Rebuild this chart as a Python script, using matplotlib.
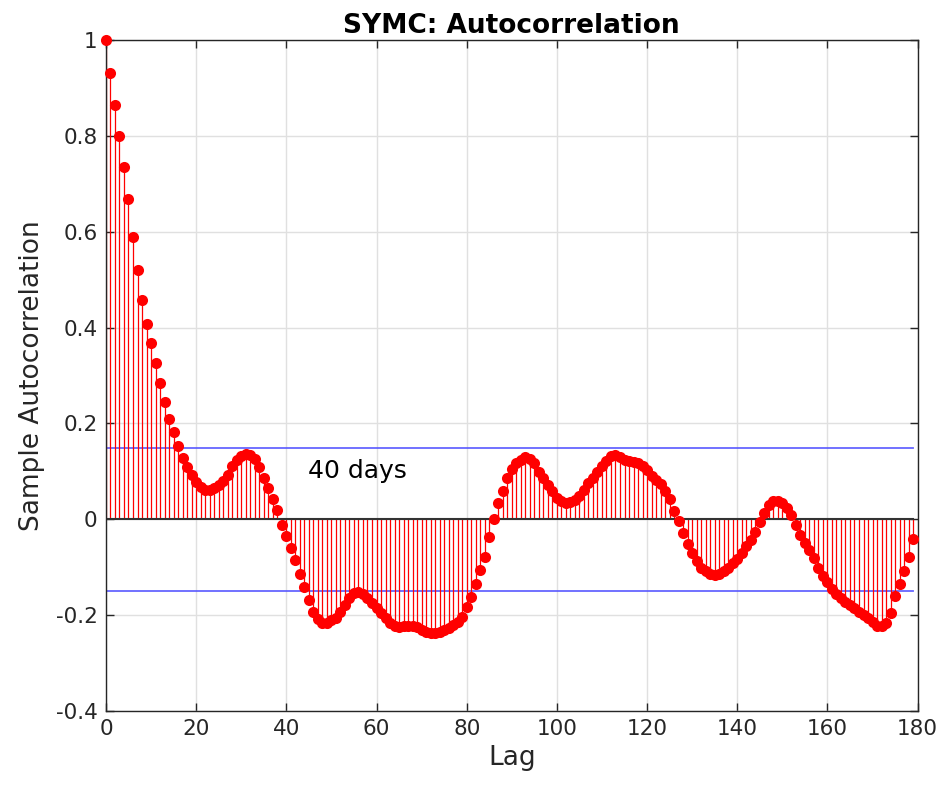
import numpy as np
import matplotlib
matplotlib.use("Agg")
import matplotlib.pyplot as plt

# sample autocorrelation of SYMC returns, lags 0..179
lags = np.arange(180)
acf = [
    1.000, 0.932, 0.864, 0.800, 0.736, 0.668, 0.590, 0.520, 0.458, 0.407,
    0.367, 0.327, 0.285, 0.245, 0.210, 0.181, 0.152, 0.127, 0.108, 0.092,
    0.078, 0.067, 0.060, 0.061, 0.066, 0.072, 0.080, 0.092, 0.110, 0.124,
    0.132, 0.136, 0.134, 0.125, 0.108, 0.085, 0.065, 0.042, 0.019, -0.012,
    -0.036, -0.061, -0.086, -0.115, -0.142, -0.168, -0.193, -0.209, -0.217, -0.217,
    -0.210, -0.207, -0.193, -0.179, -0.164, -0.155, -0.151, -0.156, -0.165, -0.176,
    -0.186, -0.196, -0.207, -0.216, -0.223, -0.225, -0.224, -0.224, -0.224, -0.225,
    -0.231, -0.235, -0.237, -0.237, -0.235, -0.231, -0.228, -0.221, -0.214, -0.205,
    -0.184, -0.163, -0.135, -0.107, -0.079, -0.038, 0.001, 0.033, 0.059, 0.085,
    0.105, 0.117, 0.124, 0.129, 0.126, 0.117, 0.099, 0.085, 0.072, 0.058,
    0.045, 0.037, 0.033, 0.035, 0.040, 0.049, 0.061, 0.075, 0.087, 0.099,
    0.112, 0.122, 0.131, 0.133, 0.129, 0.124, 0.122, 0.119, 0.117, 0.110,
    0.102, 0.091, 0.082, 0.073, 0.058, 0.042, 0.017, -0.004, -0.029, -0.052,
    -0.071, -0.088, -0.101, -0.109, -0.115, -0.116, -0.115, -0.109, -0.101, -0.092,
    -0.083, -0.071, -0.057, -0.043, -0.027, -0.006, 0.012, 0.030, 0.038, 0.038,
    0.033, 0.023, 0.009, -0.012, -0.033, -0.049, -0.064, -0.082, -0.102, -0.118,
    -0.132, -0.146, -0.156, -0.165, -0.172, -0.179, -0.186, -0.193, -0.200, -0.207,
    -0.214, -0.222, -0.224, -0.216, -0.195, -0.161, -0.136, -0.109, -0.079, -0.042,
]
conf = 0.149  # approx. 95% bounds

tick_color = "#262626"

fig = plt.figure(figsize=(9.46, 7.88), dpi=100)
ax = fig.add_axes([0.112, 0.098, 0.858, 0.851])

# stems + markers (markers not clipped so lag 0 shows in full)
ax.vlines(lags, 0, acf, color="red", linewidth=0.9, zorder=2)
ax.plot(lags, acf, "o", color="red", markersize=8, markeredgewidth=0,
        zorder=3, clip_on=False)

# zero line and confidence bounds
ax.plot([0, lags[-1]], [0, 0], color="#333333", linewidth=1.5, zorder=2.5)
ax.plot([0, lags[-1]], [conf, conf], color="#5555ff", linewidth=1.3, alpha=0.9, zorder=1.5)
ax.plot([0, lags[-1]], [-conf, -conf], color="#5555ff", linewidth=1.3, alpha=0.9, zorder=1.5)

ax.text(44.7, 0.1, "40 days", fontsize=18, va="center", ha="left", color="black")

ax.set_xlim(0, 180)
ax.set_ylim(-0.4, 1.0)
ax.set_xticks(np.arange(0, 181, 20))
ax.set_yticks(np.arange(-0.4, 1.01, 0.2))
ax.set_yticklabels(["-0.4", "-0.2", "0", "0.2", "0.4", "0.6", "0.8", "1"])

ax.grid(True, color="#e0e0e0", linewidth=1.0)
ax.set_axisbelow(True)
ax.tick_params(direction="in", length=6, width=1, colors=tick_color,
               labelsize=15.5, top=True, right=True, pad=6)
for sp in ax.spines.values():
    sp.set_color(tick_color)
    sp.set_linewidth(1.0)

ax.set_title("SYMC: Autocorrelation", fontsize=19, fontweight="bold", pad=5)
ax.set_xlabel("Lag", fontsize=19, color=tick_color, labelpad=4)
ax.set_ylabel("Sample Autocorrelation", fontsize=19, color=tick_color, labelpad=8)

fig.savefig("out.png", dpi=100)
